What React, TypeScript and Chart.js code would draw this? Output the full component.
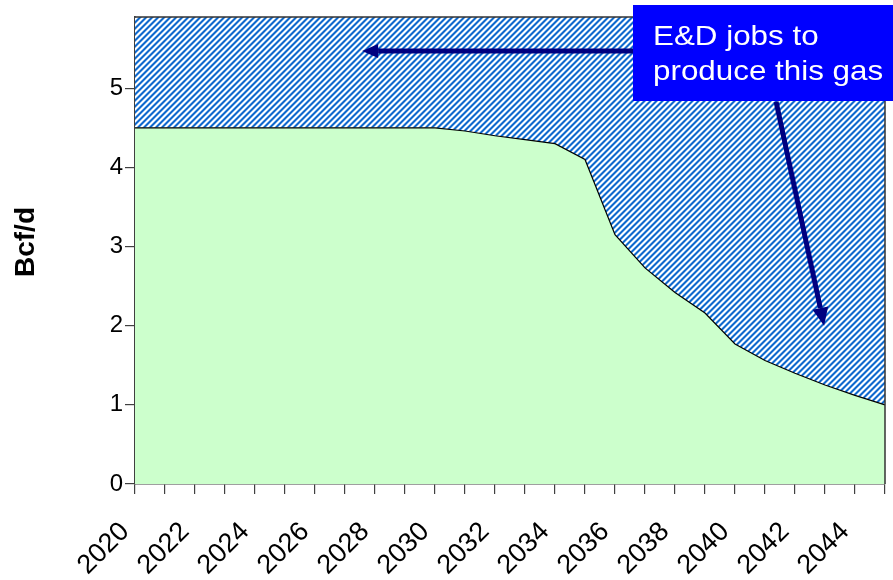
import React, { useEffect, useRef } from 'react';
import { Chart, registerables } from 'chart.js';

Chart.register(...registerables);

// ---------- data ----------
const years = [
  '2020', '2021', '2022', '2023', '2024', '2025', '2026', '2027', '2028',
  '2029', '2030', '2031', '2032', '2033', '2034', '2035', '2036', '2037',
  '2038', '2039', '2040', '2041', '2042', '2043', '2044', '2045',
];
const production = [
  4.5, 4.5, 4.5, 4.5, 4.5, 4.5, 4.5, 4.5, 4.5, 4.5, 4.5,
  4.46, 4.4, 4.35, 4.3, 4.1, 3.15, 2.73, 2.42, 2.16, 1.77,
  1.56, 1.4, 1.25, 1.12, 1.0,
];
const capacity = [
  5.9, 5.9, 5.9, 5.9, 5.9, 5.9, 5.9, 5.9, 5.9, 5.9, 5.9, 5.9, 5.9,
  5.9, 5.9, 5.9, 5.9, 5.9, 5.9, 5.9, 5.9, 5.9, 5.9, 5.9, 5.9, 5.9,
];
const yMin = 0;
const yMax = 5.9;
const yStep = 1;
const yTitle = 'Bcf/d';
const calloutLines = ['E&D jobs to', 'produce this gas'];
// arrows in data units: [fromIndex, fromValue, toIndex, toValue]
const arrowLeft = [16.9, 5.47, 7.57, 5.47];
const arrowDown = [21.37, 4.83, 22.97, 2.0];

const FONT = "'Liberation Sans', Arial, sans-serif";

function makeHatch(ctx: CanvasRenderingContext2D): CanvasPattern | string {
  const p = 6;
  const c = document.createElement('canvas');
  c.width = p;
  c.height = p;
  const g = c.getContext('2d');
  if (!g) return '#4a8ad8';
  const cols = ['#1068CC', '#1068CC', '#86B8EC', '#FFFFFF', '#FFFFFF', '#86B8EC'];
  for (let y = 0; y < p; y++) {
    for (let x = 0; x < p; x++) {
      const d = (x + y) % p;
      g.fillStyle = cols[d];
      g.fillRect(x, y, 1, 1);
    }
  }
  return ctx.createPattern(c, 'repeat') || '#4a8ad8';
}

function drawArrow(
  ctx: CanvasRenderingContext2D,
  x0: number, y0: number, x1: number, y1: number,
  w: number, headLen: number, headHalf: number,
) {
  const a = Math.atan2(y1 - y0, x1 - x0);
  const bx = x1 - headLen * Math.cos(a);
  const by = y1 - headLen * Math.sin(a);
  ctx.lineWidth = w;
  ctx.lineCap = 'butt';
  ctx.beginPath();
  ctx.moveTo(x0, y0);
  ctx.lineTo(bx, by);
  ctx.stroke();
  ctx.beginPath();
  ctx.moveTo(x1, y1);
  ctx.lineTo(bx + headHalf * Math.sin(a), by - headHalf * Math.cos(a));
  ctx.lineTo(bx - headHalf * Math.sin(a), by + headHalf * Math.cos(a));
  ctx.closePath();
  ctx.fill();
}

export default function App() {
  const ref = useRef<HTMLCanvasElement>(null);

  useEffect(() => {
    const canvas = ref.current;
    if (!canvas) return;
    const ctx0 = canvas.getContext('2d');
    if (!ctx0) return;
    const hatch = makeHatch(ctx0);

    const overlay = {
      id: 'overlay',
      afterDraw(chart: any) {
        const { ctx, chartArea, scales } = chart;
        const xs = scales.x;
        const ys = scales.y;
        ctx.save();
        // plot frame (top + right)
        ctx.strokeStyle = '#333333';
        ctx.lineWidth = 1.5;
        ctx.beginPath();
        ctx.moveTo(chartArea.left, chartArea.top);
        ctx.lineTo(chartArea.right, chartArea.top);
        ctx.lineTo(chartArea.right, chartArea.bottom);
        ctx.stroke();

        // arrows
        ctx.strokeStyle = '#000080';
        ctx.fillStyle = '#000080';
        drawArrow(
          ctx,
          xs.getPixelForValue(arrowLeft[0]), ys.getPixelForValue(arrowLeft[1]),
          xs.getPixelForValue(arrowLeft[2]), ys.getPixelForValue(arrowLeft[3]),
          5, 16, 7,
        );
        drawArrow(
          ctx,
          xs.getPixelForValue(arrowDown[0]), ys.getPixelForValue(arrowDown[1]),
          xs.getPixelForValue(arrowDown[2]), ys.getPixelForValue(arrowDown[3]),
          5, 18, 8,
        );

        // callout box
        ctx.fillStyle = '#0000FF';
        ctx.fillRect(633, 5, 270, 96);
        ctx.fillStyle = '#FFFFFF';
        ctx.font = `28px ${FONT}`;
        ctx.textAlign = 'left';
        ctx.textBaseline = 'alphabetic';
        ctx.save();
        ctx.translate(653, 0);
        ctx.scale(1.12, 1);
        ctx.fillText(calloutLines[0], 0, 45);
        ctx.fillText(calloutLines[1], 0, 80);
        ctx.restore();

        // y axis title
        ctx.fillStyle = '#000000';
        ctx.font = `bold 28px ${FONT}`;
        ctx.translate(26, 242);
        ctx.rotate(-Math.PI / 2);
        ctx.textAlign = 'center';
        ctx.textBaseline = 'middle';
        ctx.fillText(yTitle, 0, 0);
        ctx.restore();
      },
    };

    const chart = new Chart(ctx0, {
      type: 'line',
      data: {
        labels: years,
        datasets: [
          {
            label: 'Production',
            data: production,
            fill: 'origin',
            backgroundColor: '#CCFFCC',
            borderColor: '#000000',
            borderWidth: 1.2,
            pointRadius: 0,
            tension: 0,
          },
          {
            label: 'Capacity',
            data: capacity,
            fill: '-1',
            backgroundColor: hatch as any,
            borderColor: 'rgba(0,0,0,0)',
            borderWidth: 1,
            pointRadius: 0,
            tension: 0,
          },
        ],
      },
      options: {
        responsive: false,
        maintainAspectRatio: false,
        animation: false,
        events: [],
        layout: { padding: { top: 17, right: 8, left: 0, bottom: 0 } },
        plugins: {
          legend: { display: false },
          tooltip: { enabled: false },
          title: { display: false },
        },
        scales: {
          x: {
            type: 'category',
            offset: false,
            grid: {
              display: true,
              drawOnChartArea: false,
              drawTicks: true,
              tickLength: 10,
              color: '#404040',
              lineWidth: 1.2,
            },
            border: { display: true, color: '#404040', width: 1.5 },
            ticks: {
              autoSkip: false,
              maxRotation: 45,
              minRotation: 45,
              padding: 22,
              labelOffset: -10,
              color: '#000000',
              font: { family: FONT, size: 27 },
              callback: (_v: any, i: number) => (i % 2 === 0 ? years[i] : ''),
            },
            afterFit: (s: any) => {
              s.height = 96;
              s.paddingLeft = 0;
              s.paddingRight = 0;
            },
          },
          y: {
            min: yMin,
            max: yMax,
            grid: {
              display: true,
              drawOnChartArea: false,
              drawTicks: true,
              tickLength: 10,
              color: '#404040',
              lineWidth: 1.2,
            },
            border: { display: true, color: '#404040', width: 1.5 },
            ticks: {
              stepSize: yStep,
              includeBounds: false,
              padding: 2,
              color: '#000000',
              font: { family: FONT, size: 24 },
            },
            afterFit: (s: any) => {
              s.width = 135;
            },
          },
        },
      },
      plugins: [overlay],
    });

    return () => chart.destroy();
  }, []);

  return (
    <div style={{ position: 'fixed', left: 0, top: 0, width: 893, height: 580, background: '#ffffff' }}>
      <canvas ref={ref} width={893} height={580} style={{ display: 'block', width: 893, height: 580 }} />
    </div>
  );
}
